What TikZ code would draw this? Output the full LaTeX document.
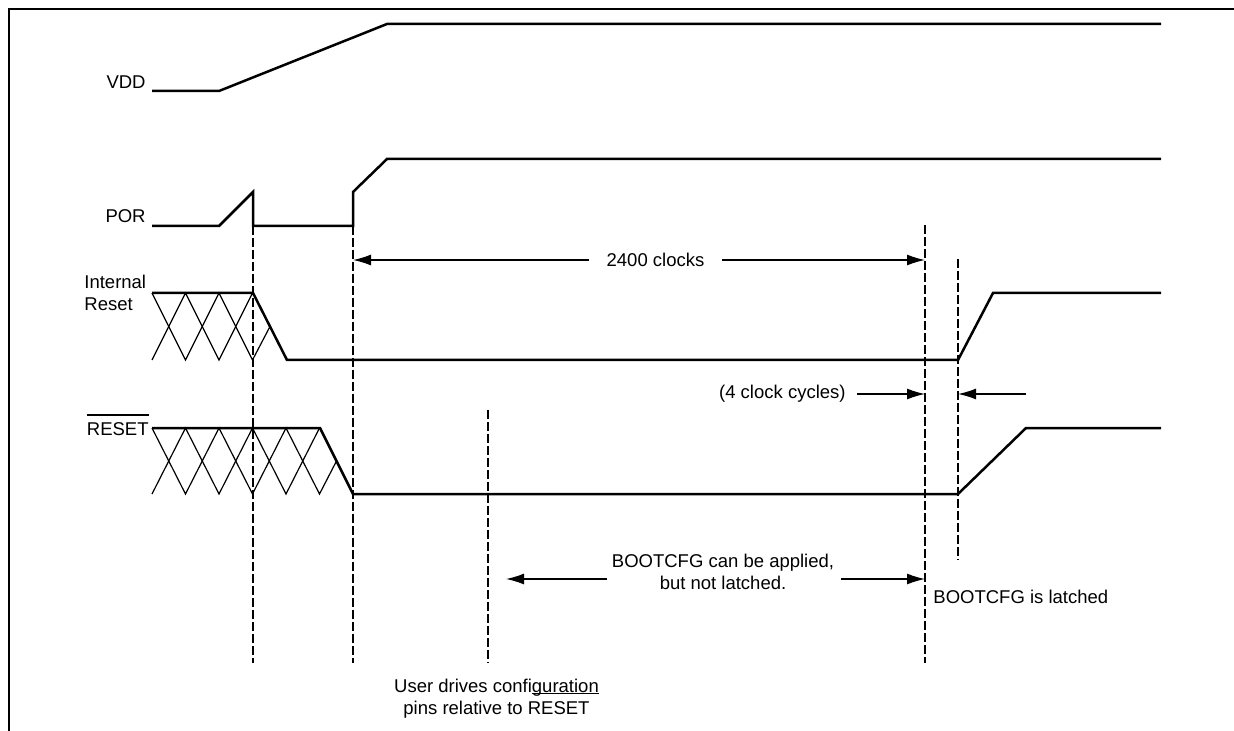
\documentclass[tikz,border=0pt]{standalone}
\usepackage{fontspec}
\setmainfont{Liberation Sans}
\usetikzlibrary{arrows.meta,positioning}

\newlength\cfgulwd
\newcommand\cfgul[1]{\settowidth\cfgulwd{#1}\rlap{\rule[-0.7pt]{\cfgulwd}{0.6pt}}#1}

\begin{document}
\begin{tikzpicture}[
        x=0.5pt, y=-0.5pt,
        font=\fontsize{9.25}{11}\selectfont,
        signal/.style={line width=1.25pt},
        xhatch/.style={line width=0.6pt},
        guide/.style={line width=1.4pt, dash pattern=on 4.3pt off 1.7pt},
        dim/.style={-{Latex[length=9pt,width=5.5pt]}, line width=0.65pt},
        lbl/.style={inner sep=0pt}
    ]
    \useasboundingbox (0,0) rectangle (1234,731);
    \draw[line width=1.4pt] (1234,9) -- (9,9) -- (9,731);

    % signal names
    \node[lbl, anchor=base east] (vdd) at (146,89) {VDD};
    \node[lbl, anchor=base east] (por) at (146,223) {POR};
    \node[lbl, anchor=north west, align=left] (irst) at (84,275) {Internal\\Reset};
    \node[lbl, anchor=base east] (rst) at (149,435) {RESET};
    \draw[xhatch] (87,415) -- (149,415);

    % waveforms
    \draw[signal] (152,91) -- (219,91) -- (387,24) -- (1161,24);
    \draw[signal] (152,226) -- (219,226) -- (253,192) -- (253,226) -- (353,226)
        -- (353,192) -- (387,159) -- (1161,159);
    \draw[signal] (152,293) -- (253,293) -- (287,360) -- (958,360) -- (993,293) -- (1161,293);
    \draw[signal] (152,428) -- (320,428) -- (353,494) -- (958,494) -- (1026,428) -- (1161,428);

    % unknown state
    \draw[xhatch] (152,293) -- (185.5,360) -- (219,293) -- (252.5,360) -- (270,326.5);
    \draw[xhatch] (152,360) -- (185.5,293) -- (219,360) -- (252.5,293);
    \draw[xhatch] (152,428) -- (185.5,494) -- (219,428) -- (252.5,494) -- (286,428)
        -- (319.5,494) -- (336.5,461);
    \draw[xhatch] (152,494) -- (185.5,428) -- (219,494) -- (252.5,428) -- (286,494) -- (319.5,428);

    % markers
    \draw[guide] (253,226) -- (253,663);
    \draw[guide] (353,226) -- (353,663);
    \draw[guide] (488,410) -- (488,663);
    \draw[guide] (925,225) -- (925,663);
    \draw[guide] (958,259) -- (958,560);

    % timing notes
    \node[inner xsep=8.5pt, inner ysep=0pt] (clk) at (655.5,260) {2400 clocks};
    \draw[dim] (clk.west) -- (353,260);
    \draw[dim] (clk.east) -- (925,260);

    \node[inner xsep=5.5pt, inner ysep=0pt, anchor=east] (cyc) at (857,394) {(4 clock cycles)};
    \coordinate (cycin) at (1026,394);
    \draw[dim] (cyc.east) -- (925,394);
    \draw[dim] (cycin) -- (958,394);

    \node[lbl, anchor=north, align=center] (apply) at (723,553.5) {BOOTCFG can be applied,\\but not latched.};
    \coordinate (applyl) at (607,579);
    \coordinate (applyr) at (841,579);
    \draw[dim] (applyl) -- (506,579);
    \draw[dim] (applyr) -- (925,579);

    \node[lbl, anchor=base west] (latch) at (933,603) {BOOTCFG is latched};
    \node[lbl, anchor=north, align=center] (user) at (496.5,678.5)
        {User drives confi\cfgul{guration}\\pins relative to RESET};
\end{tikzpicture}
\end{document}
